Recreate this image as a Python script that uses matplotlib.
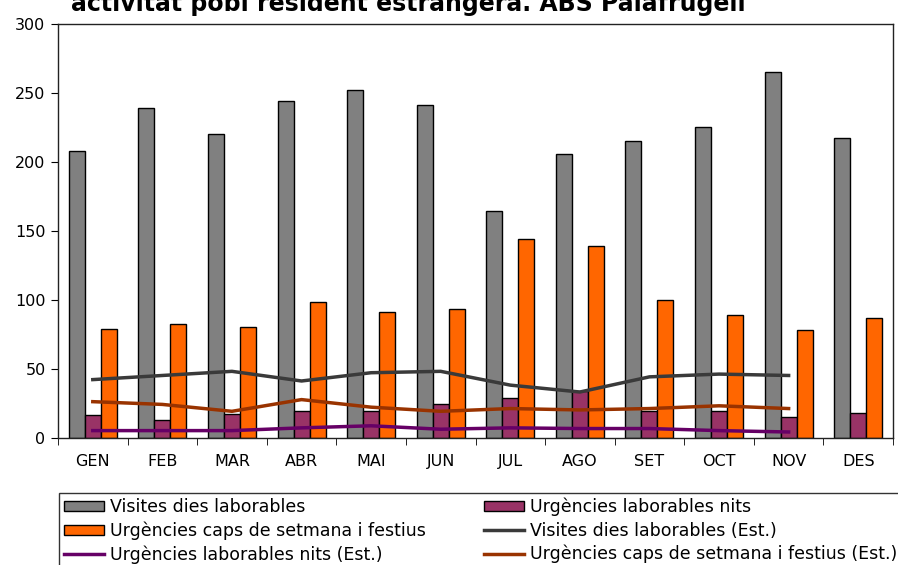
import numpy as np
import matplotlib.pyplot as plt
from matplotlib.patches import Patch
from matplotlib.lines import Line2D

months = ['GEN', 'FEB', 'MAR', 'ABR', 'MAI', 'JUN', 'JUL', 'AGO', 'SET', 'OCT', 'NOV', 'DES']
visites = [208, 239, 220, 244, 252, 241, 164, 206, 215, 225, 265, 217]
urg_nits = [16, 13, 17, 19, 19, 24, 29, 34, 19, 19, 15, 18]
urg_caps = [79, 82, 80, 98, 91, 93, 144, 139, 100, 89, 78, 87]

# estimacions (GEN..NOV)
visites_est = [42, 45, 48, 41, 47, 48, 38, 33, 44, 46, 45]
nits_est = [5, 5, 5, 7, 8.5, 6, 7, 6.5, 6.5, 5, 4]
caps_est = [26, 24, 19, 27.5, 22, 19, 21, 20, 21, 23, 21]

c_gray = '#808080'
c_purple = '#993366'
c_orange = '#FF6600'
c_l_gray = '#3a3a3a'
c_l_purple = '#660066'
c_l_brown = '#993300'

fig = plt.figure(figsize=(8.98, 5.65), dpi=100)
ax = fig.add_axes([58/898, 1-437.5/565, (893-58)/898, (437.5-24)/565])

x = np.arange(len(months))
w = 0.23
ax.bar(x - w, visites, w, color=c_gray, edgecolor='black', linewidth=1)
ax.bar(x, urg_nits, w, color=c_purple, edgecolor='black', linewidth=1)
ax.bar(x + w, urg_caps, w, color=c_orange, edgecolor='black', linewidth=1)

xe = np.arange(len(visites_est))
ax.plot(xe, visites_est, color=c_l_gray, lw=2.5, zorder=3)
ax.plot(xe, nits_est, color=c_l_purple, lw=2.5, zorder=3)
ax.plot(xe, caps_est, color=c_l_brown, lw=2.5, zorder=3)

ax.set_xlim(-0.5, 11.5)
ax.set_ylim(0, 300)
ax.set_yticks([0, 50, 100, 150, 200, 250, 300])
ax.set_xticks(x)
ax.set_xticklabels(months)
ax.set_xticks(np.arange(-0.5, 12, 1), minor=True)
ax.tick_params(axis='x', which='major', length=0, pad=12, labelsize=11.5)
ax.tick_params(axis='x', which='minor', length=5, direction='out')
ax.tick_params(axis='y', length=5, direction='out', labelsize=11.5, pad=4)
for s in ax.spines.values():
    s.set_color('#222222')
    s.set_linewidth(1)

fig.text(408/898, 1-11/565, 'activitat pobl resident estrangera. ABS Palafrugell',
         ha='center', va='baseline', fontsize=17, fontweight='bold')

handles = [
    Patch(facecolor=c_gray, edgecolor='black', label='Visites dies laborables'),
    Patch(facecolor=c_orange, edgecolor='black', label='Urgències caps de setmana i festius'),
    Line2D([], [], color=c_l_purple, lw=2.5, label='Urgències laborables nits (Est.)'),
    Patch(facecolor=c_purple, edgecolor='black', label='Urgències laborables nits'),
    Line2D([], [], color=c_l_gray, lw=2.5, label='Visites dies laborables (Est.)'),
    Line2D([], [], color=c_l_brown, lw=2.5, label='Urgències caps de setmana i festius (Est.)'),
]
leg = fig.legend(handles=handles, ncol=2, loc='upper left',
                 bbox_to_anchor=(59/898, 1-493/565 - 0.2, (902-59)/898, 0.2),
                 mode='expand', frameon=True, fancybox=False, fontsize=12.5,
                 borderaxespad=0, handlelength=2.3, handleheight=0.5,
                 handletextpad=0.35, labelspacing=0.3, borderpad=0.28)
leg.get_frame().set_edgecolor('black')
leg.get_frame().set_linewidth(1)

fig.savefig('out.png', dpi=100)
